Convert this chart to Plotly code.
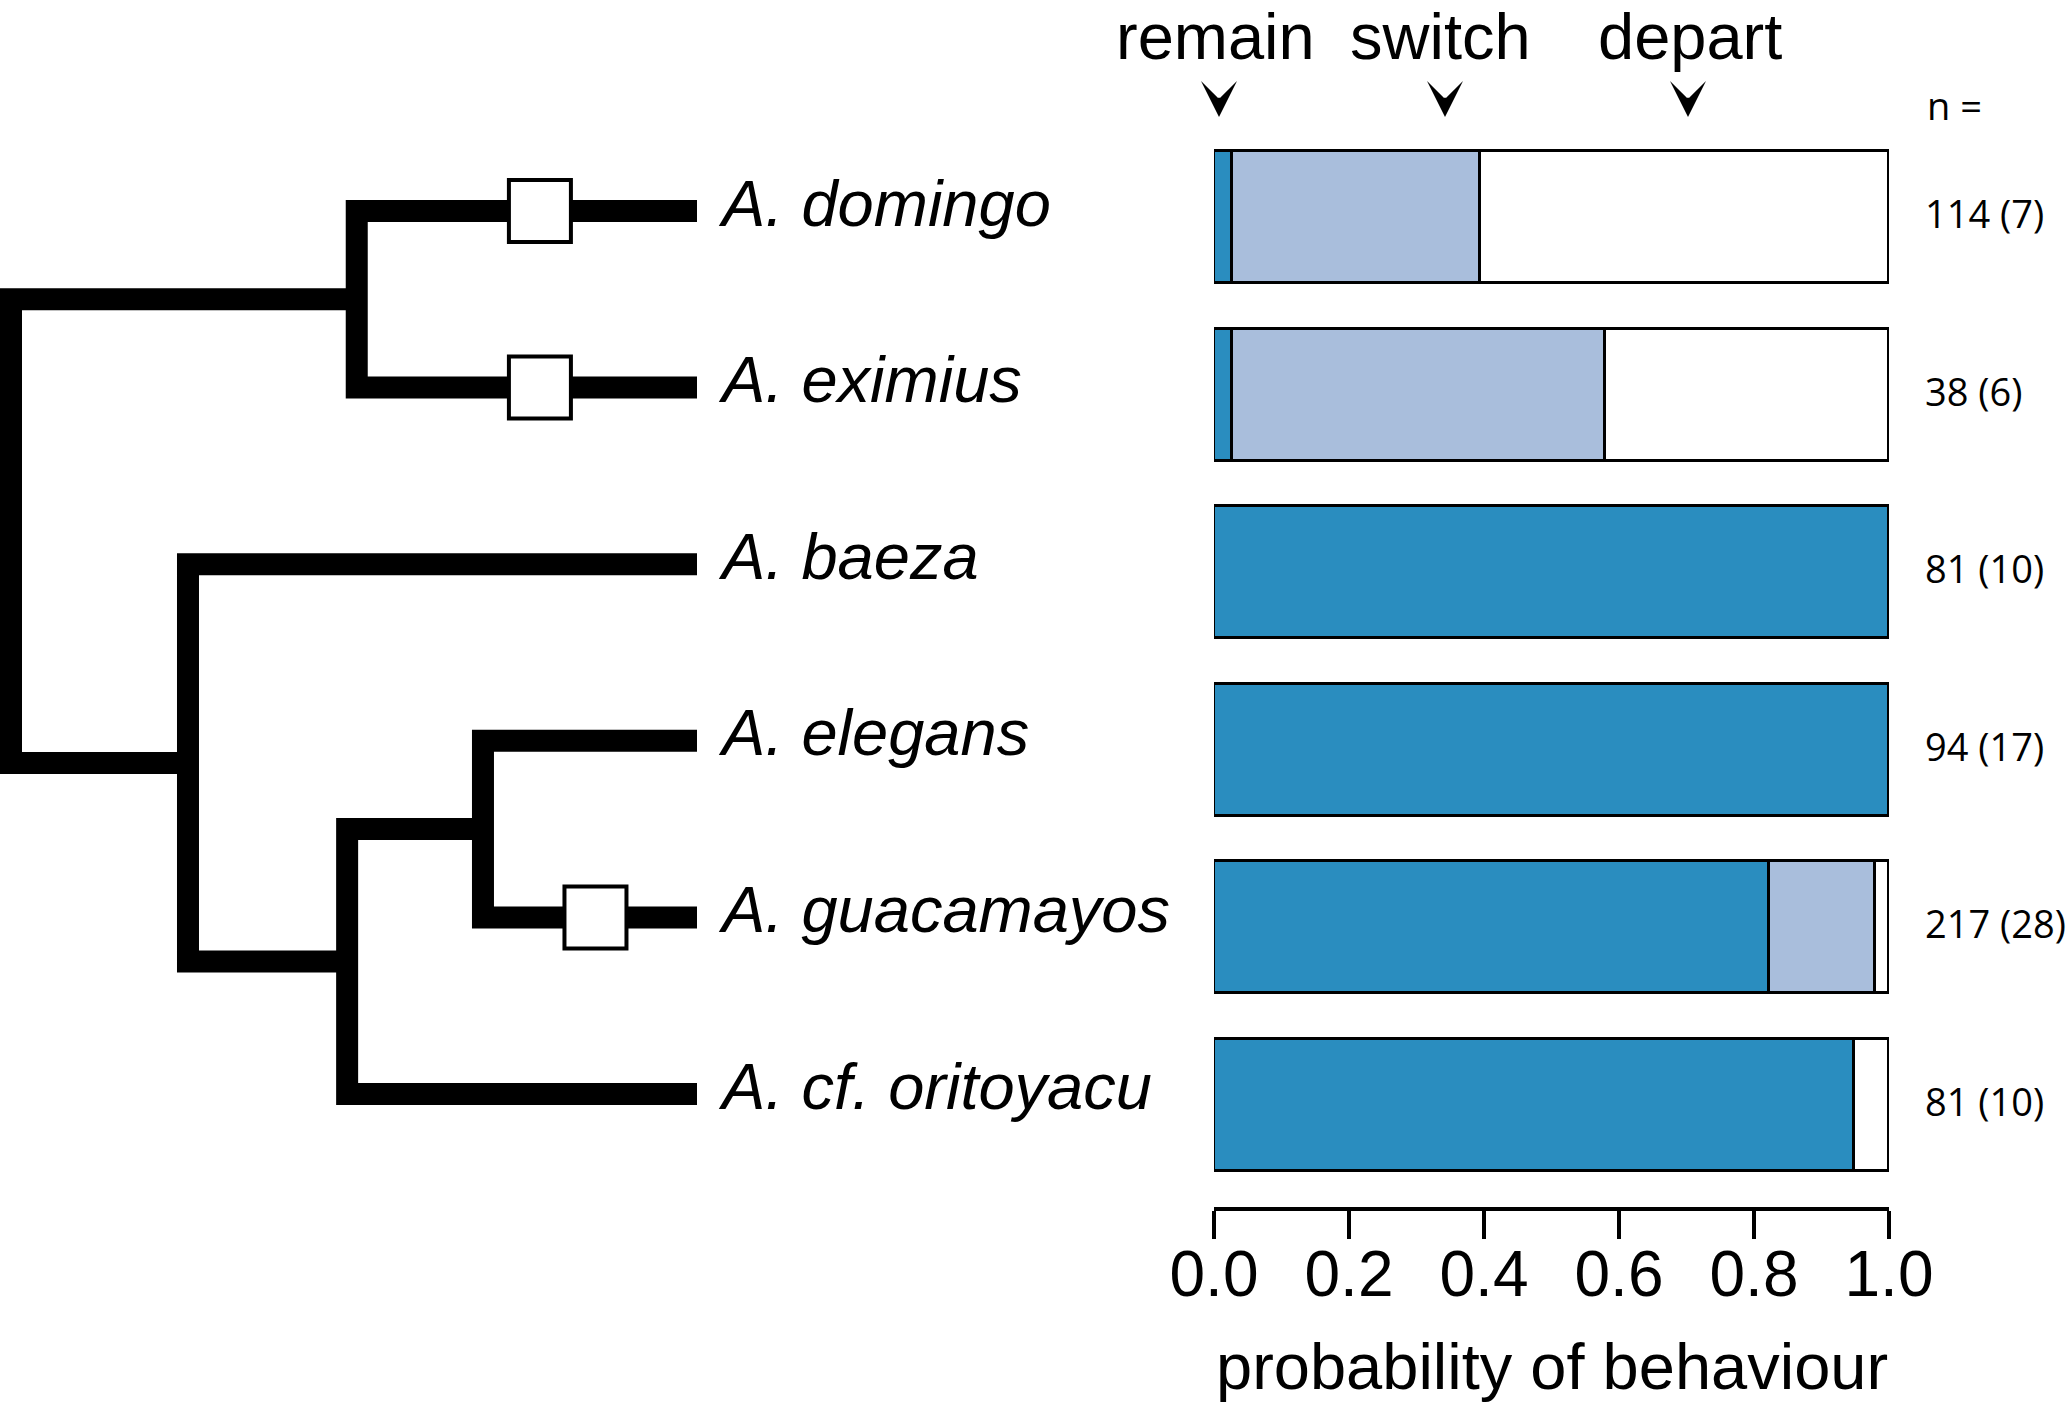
import plotly.graph_objects as go

# ---------------- data ----------------
species = ["A. domingo", "A. eximius", "A. baeza", "A. elegans", "A. guacamayos", "A. cf. oritoyacu"]
remain = [0.026, 0.026, 1.0, 1.0, 0.822, 0.948]
switch = [0.368, 0.553, 0.0, 0.0, 0.157, 0.0]
depart = [0.606, 0.421, 0.0, 0.0, 0.021, 0.052]
n_labels = ["114 (7)", "38 (6)", "81 (10)", "94 (17)", "217 (28)", "81 (10)"]
behaviours = ["remain", "switch", "depart"]
behaviour_colors = ["#2a8dbf", "#a9bedc", "#ffffff"]
tick_vals = [0.0, 0.2, 0.4, 0.6, 0.8, 1.0]

# phylogeny: internal node depths (root = 0, tips = 1) and children (ints = tip index)
node_depth = {"root": 0.0, "A": 0.504, "B": 0.258, "C": 0.490, "D": 0.688}
node_children = {"root": ("A", "B"), "A": (0, 1), "B": (2, "C"), "C": ("D", 5), "D": (3, 4)}
transition_tips = [0, 1, 4]
transition_depth = [0.771, 0.771, 0.852]

W, H = 2071, 1416
MAIN_FONT = "Liberation Sans, Arial, Helvetica, sans-serif"
SMALL_FONT = "Open Sans, Noto Sans, sans-serif"

fig = go.Figure()

# ---------------- stacked bars ----------------
vals = [remain, switch, depart]
for name, v, c in zip(behaviours, vals, behaviour_colors):
    fig.add_trace(go.Bar(
        y=species, x=v, orientation="h", name=name,
        marker=dict(color=c, line=dict(color="black", width=3.5)),
        width=0.744, cliponaxis=False, showlegend=False,
        xaxis="x", yaxis="y", hoverinfo="x+y+name",
    ))

# n labels
for sp, lab in zip(species, n_labels):
    fig.add_annotation(x=1.0, y=sp, xref="x", yref="y", text=lab, showarrow=False,
                       xanchor="left", yanchor="middle", xshift=34, yshift=4,
                       font=dict(family=SMALL_FONT, size=38, color="black"))

# ---------------- tree ----------------
def tip_or_node_y(k):
    if isinstance(k, int):
        return float(k)
    c1, c2 = node_children[k]
    return (tip_or_node_y(c1) + tip_or_node_y(c2)) / 2.0

def depth(k):
    return 1.0 if isinstance(k, int) else node_depth[k]

for nd, (c1, c2) in node_children.items():
    nx = node_depth[nd]
    y1, y2 = tip_or_node_y(c1), tip_or_node_y(c2)
    fig.add_trace(go.Scatter(
        x=[depth(c1), nx, nx, depth(c2)], y=[y1, y1, y2, y2],
        mode="lines", line=dict(color="black", width=22),
        xaxis="x2", yaxis="y2", showlegend=False, hoverinfo="skip",
    ))

fig.add_trace(go.Scatter(
    x=transition_depth, y=[float(t) for t in transition_tips], mode="markers",
    marker=dict(symbol="square", size=62, color="white", line=dict(color="black", width=4)),
    xaxis="x2", yaxis="y2", showlegend=False, hoverinfo="skip",
))

for i, sp in enumerate(species):
    fig.add_annotation(x=1.0, y=i, xref="x2", yref="y2", text=sp, showarrow=False,
                       xanchor="left", yanchor="middle", xshift=19, yshift=8,
                       font=dict(family=MAIN_FONT, size=65, color="black", style="italic"))

# ---------------- header labels & arrows ----------------
head_x = [1215, 1440, 1690]
arrow_x = [1219, 1445, 1688]
for lab, hx, ax_ in zip(behaviours, head_x, arrow_x):
    fig.add_annotation(x=hx / W, y=1 - 36 / H, xref="paper", yref="paper", text=lab,
                       showarrow=False, xanchor="center", yanchor="middle",
                       font=dict(family=MAIN_FONT, size=65, color="black"))
    fig.add_annotation(x=ax_ / W, y=1 - 117 / H, xref="paper", yref="paper", text="",
                       showarrow=True, arrowhead=3, arrowsize=3.0, arrowwidth=2,
                       arrowcolor="black", ax=0, ay=-18, standoff=0)

fig.add_annotation(x=1925 / W, y=1 - 105 / H, xref="paper", yref="paper", text="n =",
                   showarrow=False, xanchor="left", yanchor="middle",
                   font=dict(family=SMALL_FONT, size=38, color="black"))

fig.add_annotation(x=1552 / W, y=1 - 1366 / H, xref="paper", yref="paper",
                   text="probability of behaviour", showarrow=False,
                   xanchor="center", yanchor="middle",
                   font=dict(family=MAIN_FONT, size=65, color="black"))

# ---------------- layout ----------------
x0_px, x1_px = 1214, 1889
bar_top, bar_step = 217.3, 177.5
tree_top, tree_step = 211.0, 176.6
tree_dom = 0.55
tree_scale = 686.0
tr0 = -11.0 / tree_scale
tr1 = tr0 + tree_dom * W / tree_scale

fig.update_layout(
    width=W, height=H, margin=dict(l=0, r=0, t=0, b=0, pad=0, autoexpand=False),
    paper_bgcolor="white", plot_bgcolor="rgba(0,0,0,0)",
    barmode="stack", bargap=0, showlegend=False,
    xaxis=dict(domain=[x0_px / W, x1_px / W], range=[0, 1], anchor="free",
               position=(H - 1209) / H, showline=True, linecolor="black", linewidth=4,
               ticks="outside", ticklen=28, tickwidth=4, tickcolor="black",
               tickvals=tick_vals, ticktext=[f"{t:.1f}" for t in tick_vals],
               tickfont=dict(family=MAIN_FONT, size=64, color="black"),
               ticklabelstandoff=-20, automargin=False,
               showgrid=False, zeroline=False, fixedrange=True),
    yaxis=dict(domain=[0, 1], type="category", categoryarray=species,
               categoryorder="array",
               range=[(H - bar_top) / bar_step, -bar_top / bar_step],
               visible=False, anchor="x", fixedrange=True, automargin=False),
    xaxis2=dict(domain=[0, tree_dom], range=[tr0, tr1], visible=False, anchor="y2",
                fixedrange=True, automargin=False),
    yaxis2=dict(domain=[0, 1], range=[(H - tree_top) / tree_step, -tree_top / tree_step],
                visible=False, anchor="x2", fixedrange=True, automargin=False),
)

fig.write_html("out.html")
